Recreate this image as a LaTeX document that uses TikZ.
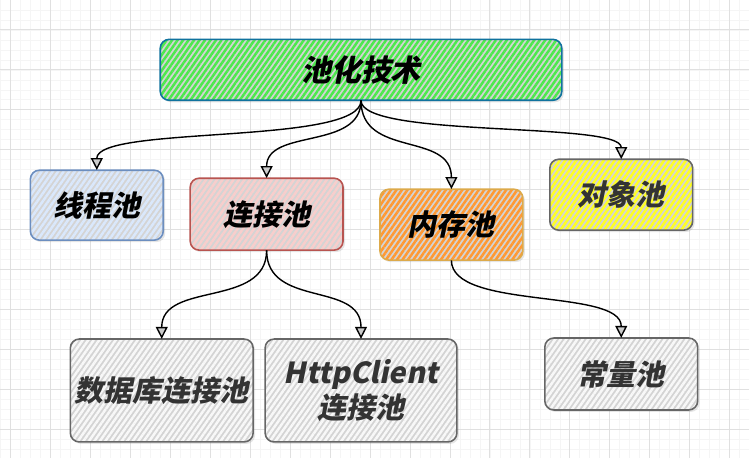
\documentclass[tikz,border=0pt]{standalone}
\usepackage{fontspec}
\usetikzlibrary{arrows.meta,patterns.meta,shadows}
\newfontfamily\cjk[FakeSlant=0.2]{Noto Sans CJK SC}
\definecolor{rootline}{HTML}{10739E}
\definecolor{rootfill}{HTML}{4DE84D}
\definecolor{blueline}{HTML}{6C8EBF}
\definecolor{bluefill}{HTML}{DAE8FC}
\definecolor{redline}{HTML}{B85450}
\definecolor{redfill}{HTML}{F8CECC}
\definecolor{orangeline}{HTML}{DDAA4A}
\definecolor{orangefill}{HTML}{FF9933}
\definecolor{yellowfill}{HTML}{FFFF22}
\definecolor{grayline}{HTML}{666666}
\definecolor{grayfill}{HTML}{F8F8F8}
\definecolor{darktext}{HTML}{333333}

\begin{document}
\begin{tikzpicture}[x=1pt,y=1pt,
    gridminor/.style={draw=black!4,line width=0.6pt},
    gridmajor/.style={draw=black!12,line width=0.8pt},
    box/.style={fill=black!17,rounded corners=9pt,inner sep=0pt,align=center,
      font=\cjk\bfseries\fontsize{29}{35}\selectfont,
      drop shadow={shadow xshift=2pt,shadow yshift=-2pt,opacity=.2},
      postaction={pattern={Lines[angle=55,distance=4.5pt,line width=2.5pt]},pattern color=#1}},
    edge/.style={postaction={draw=#1,line width=1.6pt}},
    link/.style={-{Triangle[length=12pt,width=12pt,fill=black!20]},line width=1.4pt,
      out=-90,in=90,out distance=#1,in distance=#1}]
  % background grid
  \fill[white] (0,0) rectangle (749,-458);
  \begin{scope}[shift={(10,-29.5)}]
    \draw[gridminor,step=10] (-10,-428.5) grid (739,29.5);
    \draw[gridmajor,step=40] (-10,-428.5) grid (739,29.5);
  \end{scope}
  \useasboundingbox (0,0) rectangle (749,-458);

  % nodes
  \node[box=rootfill,edge=rootline,minimum width=402,minimum height=61,
    font=\cjk\bfseries\fontsize{30}{36}\selectfont] (pool) at (361,-69.5) {池化技术};
  \node[box=bluefill,edge=blueline,minimum width=133,minimum height=70] (thread) at (96.5,-205) {线程池};
  \node[box=redfill,edge=redline,minimum width=153,minimum height=72] (conn) at (266.5,-214) {连接池};
  \node[box=orangefill,edge=orangeline,minimum width=143,minimum height=71] (mem) at (451.5,-224.5) {内存池};
  \node[box=yellowfill,edge=grayline,minimum width=143,minimum height=71,text=darktext] (obj) at (621.5,-194.5) {对象池};
  \node[box=grayfill,edge=grayline,minimum width=183,minimum height=103,text=darktext] (db) at (161.5,-390.5) {数据库连接池};
  \node[box=grayfill,edge=grayline,minimum width=192,minimum height=103,text=darktext] (http) at (361,-390.5) {HttpClient\\连接池};
  \node[box=grayfill,edge=grayline,minimum width=153,minimum height=72,text=darktext] (const) at (621.5,-374) {常量池};

  % connectors
  \draw[link=45] (pool.south) to (thread.north);
  \draw[link=50] (pool.south) to (conn.north);
  \draw[link=58] (pool.south) to (mem.north);
  \draw[link=38] (pool.south) to (obj.north);
  \draw[link=58] (conn.south) to (db.north);
  \draw[link=58] (conn.south) to (http.north);
  \draw[link=50] (mem.south) to (const.north);
\end{tikzpicture}
\end{document}
